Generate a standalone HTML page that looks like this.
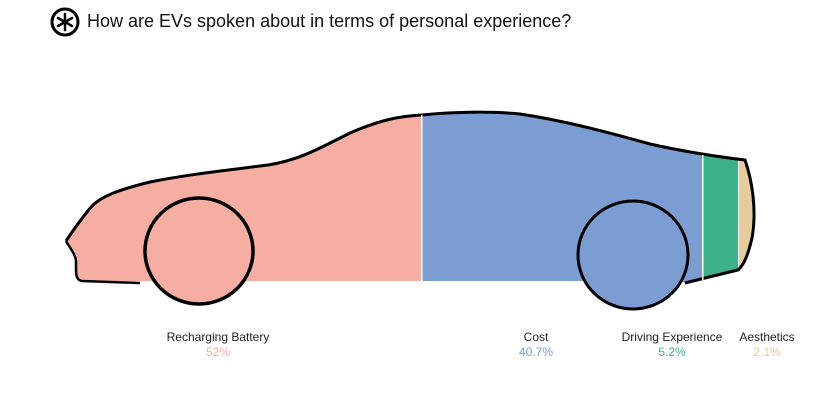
<!DOCTYPE html>
<html><head><meta charset="utf-8"><style>
html,body{margin:0;padding:0;background:#fff;width:840px;height:400px;overflow:hidden}
svg{display:block}
text{font-family:"Liberation Sans",sans-serif}
</style></head><body>
<svg width="840" height="400" viewBox="0 0 840 400" xmlns="http://www.w3.org/2000/svg">
<defs>
<clipPath id="car">
<path id="carp" d="M66,241 C72,232 80,220 92,206 C102,196 118,190 150,182 C190,174 230,170 268,165 C300,160 320,148 350,133 C380,120 400,116 422,115 C450,112 490,111 520,114 C560,120 600,130 650,144 C690,153 720,157 745,160 C752,180 757,210 752,238 C748,255 744,265 738,270 L705,278 L685,283 L680,281 L80,281 C75,280 76,272 76,262 C76,255 70,248 66,241 Z"/>
</clipPath>
</defs>
<g clip-path="url(#car)">
<rect x="0" y="0" width="421" height="400" fill="#f5aea1"/>
<rect x="422" y="0" width="280" height="400" fill="#7b9dd2"/>
<rect x="703" y="0" width="35" height="400" fill="#3db28a"/>
<rect x="739" y="0" width="30" height="400" fill="#e5cc9c"/>
</g>
<path d="M66,241 C72,232 80,220 92,206 C102,196 118,190 150,182 C190,174 230,170 268,165 C300,160 320,148 350,133 C380,120 400,116 422,115 C450,112 490,111 520,114 C560,120 600,130 650,144 C690,153 720,157 745,160 C752,180 757,210 752,238 C748,255 744,265 738,270 L705,278 L685,283" fill="none" stroke="#000" stroke-width="3"/>
<path d="M66,241 C70,248 76,255 76,262 C76,272 75,280 82,281 L140,283" fill="none" stroke="#000" stroke-width="2.5"/>
<rect x="421" y="115" width="1.5" height="166" fill="#fff"/>
<rect x="702" y="155" width="1.5" height="125" fill="#fff"/>
<ellipse cx="199" cy="251" rx="54" ry="53" fill="#f5aea1" stroke="#000" stroke-width="3.5"/>
<ellipse cx="633" cy="255" rx="55" ry="54" fill="#7b9dd2" stroke="#000" stroke-width="3"/>
<g transform="translate(65,22)">
<circle r="13" fill="none" stroke="#000" stroke-width="3"/>
<g stroke="#000" stroke-width="2.5" stroke-linecap="round">
<line x1="0" y1="-8" x2="0" y2="8"/><line x1="-7" y1="-4" x2="7" y2="4"/><line x1="-7" y1="4" x2="7" y2="-4"/>
</g>
</g>
<text x="87" y="27" font-size="18" fill="#111">How are EVs spoken about in terms of personal experience?</text>
<g font-size="12" text-anchor="middle">
<text x="218" y="341" fill="#222">Recharging Battery</text>
<text x="218" y="356" fill="#f5aea1">52%</text>
<text x="536" y="341" fill="#222">Cost</text>
<text x="536" y="356" fill="#7b9dd2">40.7%</text>
<text x="672" y="341" fill="#222">Driving Experience</text>
<text x="672" y="356" fill="#3db28a">5.2%</text>
<text x="767" y="341" fill="#222">Aesthetics</text>
<text x="767" y="356" fill="#e5cc9c">2.1%</text>
</g>
</svg>
</body></html>
